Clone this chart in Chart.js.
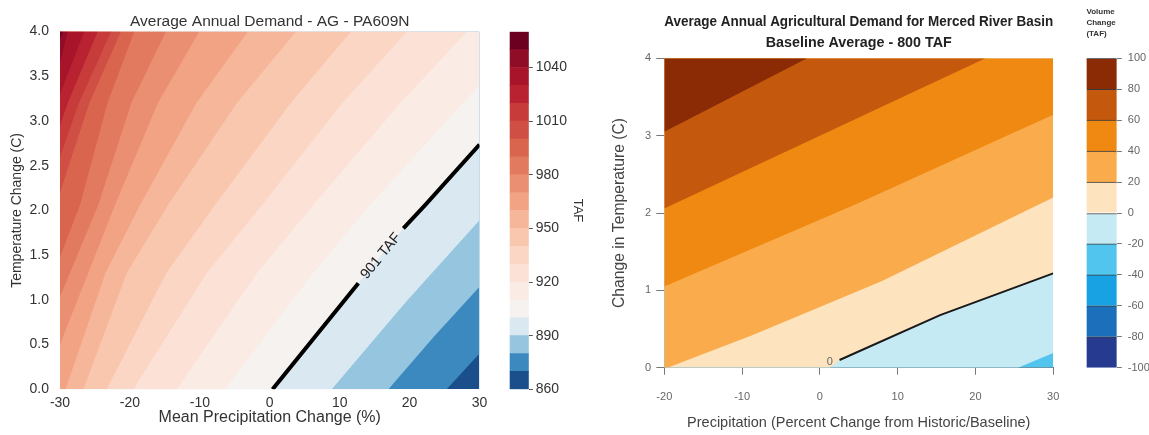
<!DOCTYPE html>
<html>
<head>
<meta charset="utf-8">
<script src="https://cdn.jsdelivr.net/npm/chart.js@4.4.1/dist/chart.umd.min.js"></script>
<style>
  html, body { margin: 0; padding: 0; background: #fff; }
  #wrap { position: relative; width: 1149px; height: 435px; overflow: hidden; }
  canvas { position: absolute; top: 0; }
</style>
</head>
<body>
<div id="wrap">
  <canvas id="demand" width="495" height="435" style="left:0px"></canvas>
  <canvas id="demandBar" width="100" height="435" style="left:495px"></canvas>
  <canvas id="merced" width="480" height="435" style="left:595px"></canvas>
  <canvas id="mercedBar" width="74" height="435" style="left:1075px"></canvas>
</div>
<script>
Chart.defaults.font.family = '"Liberation Sans", Arial, sans-serif';
Chart.defaults.animation = false;

// ---- left panel: contour lines, [precip %, temp C] ----
const demandBreaks = [860, 870, 880, 890, 900, 910, 920, 930, 940, 950, 960,
  970, 980, 990, 1000, 1010, 1020, 1030, 1040, 1050, 1060];
const demandColors = ['#1a4f8b', '#3c89c0', '#95c5df', '#dae8f2', '#f6f2f0',
  '#faebe4', '#fce2d6', '#fbd6c4', '#f9c6ae', '#f6b699', '#f2a384', '#ea8f72',
  '#e27a60', '#d9654f', '#d04f44', '#c73b3b', '#b92231', '#a8152b', '#8f0d27', '#6b0020'];
const demandTicks = [860, 890, 920, 950, 980, 1010, 1040];

const c860 = [[-30, 0], [30, 0]];
const c870 = [[-30, 0], [25.3, 0], [30, 0.40]];
const c880 = [[-30, 0], [16.97, 0], [23.5, 0.59], [30, 1.147]];
const c890 = [[-30, 0], [8.87, 0], [19.5, 0.98], [30, 1.89]];
const c900 = [[-30, 0], [0.4, 0], [12.67, 1.185], [19.11, 1.80], [22.22, 2.06], [30, 2.735]];
const c910 = [[-30, 0], [-6.4, 0], [6.2, 1.3], [14.35, 2.06], [30, 3.405]];
const c920 = [[-30, 0], [-13.3, 0], [-1.8, 1.3], [6.24, 2.06], [18.7, 3.2], [28.23, 4]];
const c930 = [[-30, 0], [-19.51, 0], [-9.0, 1.3], [-1.1, 2.06], [10.4, 3.2], [19.64, 4]];
const c940 = [[-30, 0], [-23.32, 0], [-14.8, 1.3], [-7.83, 2.06], [3.0, 3.2], [11.63, 4]];
const c950 = [[-30, 0], [-26.67, 0], [-20.46, 1.3], [-14.55, 2.06], [-4.7, 3.2], [3.76, 4]];
const c960 = [[-30, 0], [-29.2, 0], [-23.5, 1.3], [-18.55, 2.06], [-10.5, 3.2], [-3.10, 4]];
const c970 = [[-30, 0.5], [-22.13, 2.06], [-16.0, 3.2], [-10.07, 4]];
const c980 = [[-30, 1.035], [-24.52, 2.06], [-19.8, 3.2], [-14.84, 4]];
const c990 = [[-30, 1.48], [-27.14, 2.06], [-23.2, 3.2], [-19.37, 4]];
const c1000 = [[-30, 2.2], [-25.8, 3.2], [-21.27, 4]];
const c1010 = [[-30, 2.6], [-27.3, 3.2], [-22.70, 4]];
const c1020 = [[-30, 2.95], [-28.9, 3.2], [-24.61, 4]];
const c1030 = [[-30, 3.3], [-26.52, 4]];
const c1040 = [[-30, 3.65], [-28.90, 4]];
const c1050 = [[-30, 3.92], [-29.6, 4]];
const demandContours = [c860, c870, c880, c890, c900, c910, c920, c930, c940, c950,
  c960, c970, c980, c990, c1000, c1010, c1020, c1030, c1040, c1050];

// 901 TAF line, null = gap for the label
const line901 = [[0.4, 0], [12.67, 1.185], [15.9, null], [19.11, 1.80], [22.22, 2.06], [30, 2.735]];

// ---- right panel: volume change contours, [precip %, temp C] ----
const mercedColors = ['#52c5ef', '#c6eaf4', '#fee3bf', '#faab4c', '#f08912', '#c4590e', '#8b2b05'];
const m40 = [[-20, 0], [30, 0]];
const m20 = [[-20, 0], [25.47, 0], [30, 0.19]];
const z0 = [[-20, 0], [1.3, 0], [2.53, 0.1], [15.46, 0.68], [30, 1.22]];
const p20 = [[-20, 0], [-19.6, 0], [-8.7, 0.42], [8, 1.12], [30, 2.2]];
const p40 = [[-20, 1.05], [5, 2.13], [30, 3.27]];
const p60 = [[-20, 2.06], [21.3, 4]];
const p80 = [[-20, 3.05], [-1.64, 4]];
const mercedContours = [m40, m20, z0, p20, p40, p60, p80];
const line0 = [[2.53, 0.1], [15.46, 0.68], [30, 1.22]];

const scaleBreaks = [-100, -80, -60, -40, -20, 0, 20, 40, 60, 80, 100];
const scaleColors = ['#263b8f', '#1c6fbb', '#18a2e4', '#52c5ef', '#c6eaf4',
  '#fee3bf', '#faab4c', '#f08912', '#c4590e', '#8b2b05'];

const toXY = pts => pts.map(([x, y]) => ({ x, y }));

function bandSets(contours, colors) {
  return contours.map((pts, i) => ({
    data: toXY(pts),
    showLine: true,
    fill: 'end',
    backgroundColor: colors[i],
    borderColor: 'rgba(0,0,0,0)',
    borderWidth: 0,
    pointRadius: 0,
    order: contours.length - i + 1
  }));
}

// writes a label on a contour, turned along the segment a -> b
const contourLabel = {
  id: 'contourLabel',
  afterDatasetsDraw(chart, args, opts) {
    const { ctx, scales: { x, y } } = chart;
    let angle = 0;
    if (opts.along) {
      const [a, b] = opts.along;
      angle = Math.atan2(y.getPixelForValue(b[1]) - y.getPixelForValue(a[1]),
        x.getPixelForValue(b[0]) - x.getPixelForValue(a[0]));
    }
    ctx.save();
    ctx.translate(x.getPixelForValue(opts.at[0]), y.getPixelForValue(opts.at[1]));
    ctx.rotate(angle);
    ctx.font = opts.font;
    ctx.fillStyle = opts.color;
    ctx.textAlign = 'center';
    ctx.textBaseline = 'middle';
    ctx.fillText(opts.text, 0, 0);
    ctx.restore();
  }
};

// ---------------- left contour chart ----------------
new Chart(document.getElementById('demand'), {
  type: 'scatter',
  data: {
    datasets: [
      {
        data: toXY(line901), showLine: true, fill: false, spanGaps: false,
        borderColor: '#000', borderWidth: 4, pointRadius: 0, order: 0
      },
      ...bandSets(demandContours, demandColors)
    ]
  },
  options: {
    responsive: false, events: [],
    layout: { padding: { left: 0, right: 15.5, top: 0, bottom: 0 } },
    plugins: {
      legend: { display: false },
      tooltip: { enabled: false },
      title: {
        display: true, text: 'Average Annual Demand - AG - PA609N', fullSize: false,
        color: '#333', font: { size: 15.5, weight: 'normal' }, padding: { top: 12, bottom: 0.9 }
      },
      contourLabel: {
        text: '901 TAF', at: [15.9, 1.49], along: [[12.67, 1.185], [19.11, 1.80]],
        font: '14.5px "Liberation Sans", Arial, sans-serif', color: '#222'
      }
    },
    scales: {
      x: {
        type: 'linear', min: -30, max: 30,
        ticks: { stepSize: 10, color: '#333', font: { size: 14 }, padding: 5.3 },
        grid: { display: false, drawTicks: false }, border: { display: false },
        title: {
          display: true, text: 'Mean Precipitation Change (%)', color: '#333',
          font: { size: 16 }, padding: { top: 0, bottom: 7.4 }
        },
        afterFit: s => { s.height = 45.7; }
      },
      y: {
        min: 0, max: 4,
        ticks: { stepSize: 0.5, color: '#333', font: { size: 14 }, padding: 11, callback: v => v.toFixed(1) },
        grid: { display: false, drawTicks: false }, border: { display: false },
        title: {
          display: true, text: 'Temperature Change (C)', color: '#333',
          font: { size: 14 }, padding: { top: 9, bottom: 0 }
        },
        afterFit: s => { s.width = 60; }
      }
    }
  },
  plugins: [contourLabel]
});

// ---------------- left colour bar ----------------
new Chart(document.getElementById('demandBar'), {
  type: 'bar',
  data: {
    labels: [''],
    datasets: demandColors.map((c, i) => ({
      data: [[demandBreaks[i], demandBreaks[i + 1]]],
      backgroundColor: c, grouped: false, barPercentage: 1, categoryPercentage: 1, borderWidth: 0
    }))
  },
  options: {
    responsive: false, events: [],
    layout: { padding: { left: 14.6, right: 0, top: 31.7, bottom: 45.7 } },
    plugins: { legend: { display: false }, tooltip: { enabled: false } },
    scales: {
      x: { display: false },
      y: {
        position: 'right', min: 860, max: 1060,
        afterBuildTicks: s => { s.ticks = demandTicks.map(v => ({ value: v })); },
        ticks: { color: '#333', font: { size: 14 }, padding: 3, callback: v => String(v) },
        grid: { drawOnChartArea: false, drawTicks: true, tickLength: 4, color: '#555' },
        border: { display: false },
        title: { display: true, text: 'TAF', color: '#333', font: { size: 13 }, padding: { top: 9.2, bottom: 0 } },
        afterFit: s => { s.width = 66.2; }
      }
    }
  }
});

// ---------------- right contour chart ----------------
const axisGrey = '#666';
new Chart(document.getElementById('merced'), {
  type: 'scatter',
  data: {
    datasets: [
      {
        data: toXY(line0), showLine: true, fill: false,
        borderColor: '#1a1a1a', borderWidth: 2, pointRadius: 0, order: 0
      },
      ...bandSets(mercedContours, mercedColors)
    ]
  },
  options: {
    responsive: false, events: [],
    layout: { padding: { left: 0, right: 10.7, top: 0, bottom: 0 } },
    plugins: {
      legend: { display: false },
      tooltip: { enabled: false },
      title: {
        display: true, fullSize: false,
        text: ['Average Annual Agricultural Demand for Merced River Basin', 'Baseline Average - 800 TAF'],
        color: '#222', font: { size: 14.3, weight: 'bold', lineHeight: 1.47 }, padding: { top: 11.5, bottom: 4.8 }
      },
      contourLabel: {
        text: '0', at: [1.28, 0.07], font: '11px "Liberation Sans", Arial, sans-serif', color: '#666'
      }
    },
    scales: {
      x: {
        type: 'linear', min: -20, max: 30,
        ticks: { stepSize: 10, color: axisGrey, font: { size: 11 }, padding: 15.7 },
        grid: { drawOnChartArea: false, drawTicks: true, tickLength: 7, color: '#777' },
        border: { display: true, color: '#777' },
        title: {
          display: true, text: 'Precipitation (Percent Change from Historic/Baseline)', color: '#444',
          font: { size: 14.5 }, padding: { top: 0, bottom: 3.3 }
        },
        afterFit: s => { s.height = 67.3; }
      },
      y: {
        min: 0, max: 4,
        ticks: { stepSize: 1, color: axisGrey, font: { size: 11 }, padding: 5.3 },
        grid: { drawOnChartArea: false, drawTicks: true, tickLength: 8, color: '#777' },
        border: { display: true, color: '#777' },
        title: {
          display: true, text: 'Change in Temperature (C)', color: '#444',
          font: { size: 15.7 }, padding: { top: 15.6, bottom: 0 }
        },
        afterFit: s => { s.width = 69.3; }
      }
    }
  },
  plugins: [contourLabel]
});

// ---------------- right colour bar ----------------
new Chart(document.getElementById('mercedBar'), {
  type: 'bar',
  data: {
    labels: [''],
    datasets: scaleColors.map((c, i) => ({
      data: [[scaleBreaks[i], scaleBreaks[i + 1]]],
      backgroundColor: c, grouped: false, barPercentage: 1, categoryPercentage: 1,
      borderColor: '#3a3a3a', borderWidth: { top: 1, bottom: 0, left: 0, right: 0 }, borderSkipped: false
    }))
  },
  options: {
    responsive: false, events: [],
    layout: { padding: { left: 11.4, right: 0, top: 0, bottom: 67.3 } },
    plugins: {
      legend: { display: false }, tooltip: { enabled: false },
      title: {
        display: true, text: ['Volume', 'Change', '(TAF)'], align: 'start',
        color: '#333', font: { size: 8, weight: 'bold', lineHeight: 1.35 }, padding: { top: 6.6, bottom: 19.3 }
      }
    },
    scales: {
      x: { display: false },
      y: {
        position: 'right', min: -100, max: 100,
        ticks: { stepSize: 20, color: axisGrey, font: { size: 11 }, padding: 6 },
        grid: { drawOnChartArea: false, drawTicks: true, tickLength: 5, color: '#777' },
        border: { display: false },
        afterFit: s => { s.width = 32.2; }
      }
    }
  }
});
</script>
</body>
</html>
